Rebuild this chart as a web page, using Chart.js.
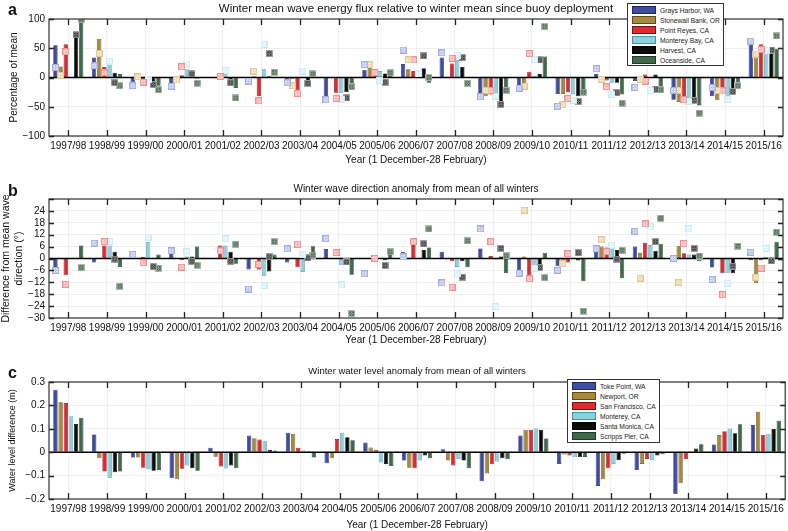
<!DOCTYPE html>
<html><head><meta charset="utf-8">
<script src="https://cdn.jsdelivr.net/npm/chart.js@4.4.0/dist/chart.umd.min.js"></script>
<style>
html,body{margin:0;padding:0;background:#fff}
body{width:788px;height:531px;overflow:hidden;position:relative;font-family:"Liberation Sans",Arial,sans-serif}
.pn{position:absolute;left:0}
.lab{position:absolute;left:8px;font-weight:bold;font-size:16px;line-height:16px;color:#111}
.leg{position:absolute;border:1px solid #333;background:#fff;box-sizing:border-box;padding:1px 0 0 4px;font-size:6.7px;color:#222}
.row{display:flex;align-items:center;height:10px;white-space:nowrap}
.sw{display:inline-block;width:22px;height:6px;border:1px solid #333;margin-right:4px;box-sizing:content-box}
</style>
</head><body>
<canvas id="ca" class="pn" width="788" height="170" style="top:0"></canvas>
<canvas id="cb" class="pn" width="788" height="180" style="top:170px"></canvas>
<canvas id="cc" class="pn" width="788" height="181" style="top:350px"></canvas>
<div class="lab" style="top:2px">a</div>
<div class="lab" style="top:183px">b</div>
<div class="lab" style="top:365px">c</div>
<div id="lega" class="leg" style="left:627px;top:3px;width:97px;height:63px"></div>
<div id="legc" class="leg" style="left:567px;top:379px;width:93px;height:64px"></div>
<script>
const CATS = ['1997/98','1998/99','1999/00','2000/01','2001/02','2002/03','2003/04','2004/05','2005/06','2006/07','2007/08','2008/09','2009/10','2010/11','2011/12','2012/13','2013/14','2014/15','2015/16'];
const BUOYS = ['Grays Harbor, WA','Stonewall Bank, OR','Point Reyes, CA','Monterey Bay, CA','Harvest, CA','Oceanside, CA'];
const GAUGES = ['Toke Point, WA','Newport, OR','San Francisco, CA','Monterey, CA','Santa Monica, CA','Scripps Pier, CA'];

// Panel a: winter mean wave energy flux (% of mean) - bars
const FLUX_GRAYS     = [55, 34, -8, -12, null, -3, -6, -37, 13, 23, 34, -33, -19, -28, 6, -6, -38, -32, 59];
const FLUX_STONEWALL = [19, 66, 0.5, -3, null, 2, -3, null, 18, 14, null, -32, -12, -28, -2, -2, -42, -39, 34];
const FLUX_PTREYES   = [57, 18, -6, 4, 3, -32, -22, -26, 9, 11, 24, -29, 10, -25, -5, 5, -42, -28, 57];
const FLUX_MONTEREY  = [null, 30, -3, 14, 8, 14, 0.5, -27, 11, 4, 30, -32, 3, -29, -9, 0.5, -43, -39, 49];
const FLUX_HARVEST   = [72, 8, -12, 7, -5, 2, -6, -25, 7, 16, 18, -47, 6, -32, -9, 5, -42, -30, 49];
const FLUX_OCEANSIDE = [97, 6, -14, -2, -18, 1, 1, -17, 6, -9, 0.5, -23, 36, -29, -29, -21, -48, -17, 49];
// Panel a: markers
const FLUXM_GRAYS     = [17, 20, -14, -15, null, -6, -9, -38, 22, 47, 42, -33, -18, -49, 15, -17, -22, -17, 62];
const FLUXM_STONEWALL = [4, 41, 1, -4, null, 11, -14, null, 22, 30, null, -22, -15, -47, -3, -3, -22, -22, 40];
const FLUXM_PTREYES   = [44, 8, -8, 18, 2, -40, -27, -36, 8, 30, 33, -22, 41, -36, -16, -6, -38, -23, 48];
const FLUXM_MONTEREY  = [null, 28, -4, 23, 12, 57, 11, -37, -5, 6, 38, -32, 31, -39, -29, -22, -41, -37, 47];
const FLUXM_HARVEST   = [73, -9, -12, 6, -9, 41, -10, -35, -8, 37, 34, -46, 30, -41, -26, -20, -39, -24, 47];
const FLUXM_OCEANSIDE = [99, -14, -21, -10, -35, 9, 6, -16, 8, 0, -10, -22, 87, -25, -44, -21, -61, -14, 71];

// Panel b: wave direction anomaly (deg) - bars
const DIR_GRAYS     = [-6, -2, null, 3, null, -5.5, -2, 4.8, null, 3.4, 3.4, 5.1, -6, -3.9, 3.4, 6, null, -4.6, -0.9];
const DIR_STONEWALL = [null, null, null, null, null, null, null, null, null, null, null, null, 1, -3.8, 6, 2.9, 6.2, null, -12.5];
const DIR_PTREYES   = [-8.5, 6.5, 0.7, -0.9, 6.5, -5.5, -4.4, null, null, 8.9, -1.4, 1.2, -8.5, -2, 5.5, 8, 2.7, -7.4, -0.9];
const DIR_MONTEREY  = [null, 6.5, 8.2, 1, 6.5, -8.9, -6.8, -3.4, null, null, -4.3, -0.5, -6.8, null, 6, 6.8, 2, -7.4, 0.9];
const DIR_HARVEST   = [null, 3.4, 0.3, 1, 3.4, -6.5, 0.5, -1.4, -0.9, 4.3, -1.4, 1, -5.1, -1, 4.3, 3.9, 2, -7.4, 0.5];
const DIR_OCEANSIDE = [6.5, -4.3, 2, 6, -2.6, 2, 6.2, -8.2, 2.5, 5.6, -4.4, -7.4, 2.9, -11.5, -9.9, 7.4, -1.4, 0.3, 8.5];
// Panel b: markers
const DIRM_GRAYS     = [-6, 7.7, 2, 3.8, null, -15.4, 4.8, 10, -7.7, 0.8, -12.3, 14.9, -7.4, -6, 4.8, 13.7, 0, -10.6, 3.1];
const DIRM_STONEWALL = [null, null, null, null, null, null, null, null, null, null, null, null, 24.3, -2.6, 9.4, -9.9, -12, null, -9.4];
const DIRM_PTREYES   = [-13, 8.5, -2.2, -4.4, 3.8, -3, 7.2, 2.9, 0, 8.4, -14.5, 8.5, -10.3, 2.4, 3.4, 17.4, 7.5, -18.3, -4.8];
const DIRM_MONTEREY  = [null, 8.5, 10.8, 3.4, 10, -13.7, 2, -13.3, null, null, -7.7, -24.4, -4.8, null, 6.8, 15.9, 14.9, -12.5, 5.1];
const DIRM_HARVEST   = [null, -0.3, -4.1, -1.4, -1.4, 0.9, 0.3, -1.7, -3.5, 7.4, -9.4, 5.1, -4.6, 2.9, -0.3, 8.5, 5.1, -3.9, -1.2];
const DIRM_OCEANSIDE = [-4.6, -14, -4.9, -3.4, 7.2, 8.5, 1.7, -27.7, 3.4, 14.9, 8.9, 1.4, -9.7, -26.5, 4.1, 20.3, 1.2, 6.3, 13.3];

// Panel c: water level anomaly (m)
const WL_TOKE     = [0.267, 0.076, -0.023, -0.111, 0.019, 0.071, 0.083, -0.047, 0.041, -0.036, 0.013, -0.124, 0.071, -0.050, -0.144, -0.076, -0.179, 0.033, 0.116];
const WL_NEWPORT  = [0.213, -0.026, -0.023, -0.116, -0.019, 0.060, 0.079, -0.026, 0.020, -0.066, -0.036, -0.091, 0.096, -0.010, -0.116, -0.050, -0.133, 0.073, 0.173];
const WL_SANFRAN  = [0.210, -0.083, -0.066, -0.071, -0.061, 0.054, 0.019, 0.056, 0.010, -0.069, -0.057, -0.051, 0.096, -0.014, -0.069, -0.029, -0.030, 0.090, 0.074];
const WL_MONTEREY = [0.154, -0.109, -0.073, -0.057, -0.070, 0.047, 0.007, 0.083, -0.044, -0.036, -0.030, -0.040, 0.101, -0.021, -0.050, -0.034, -0.004, 0.101, 0.079];
const WL_SANTAMON = [0.120, -0.086, -0.079, -0.069, -0.057, 0.011, 0.004, 0.064, -0.050, -0.014, -0.036, -0.026, 0.096, -0.021, -0.034, -0.014, 0.016, 0.081, 0.099];
const WL_SCRIPPS  = [0.147, -0.083, -0.076, -0.079, -0.069, 0.007, -0.023, 0.051, -0.059, -0.026, -0.069, -0.030, 0.059, -0.020, -0.007, -0.009, 0.034, 0.119, 0.134];

const COLORS  = ['#3d4ca2','#a8883d','#dc2a30','#8fd0e0','#0b0b0b','#3e6a4a'];
const BORDERS = ['#1e2866','#5e4a1c','#7a1216','#4b8fa3','#000000','#1f3a26'];
const MFILL   = ['#a2acdf','#ddc68f','#f28d8d','#c8ecf5','#a0a0a0','#aabbac'];
const MLINE   = ['#f2f4ff','#fffaf0','#fff3f3','#ffffff','#2a2a2a','#3d5744'];
const CAT_PCT = 0.8, BAR_PCT = 0.84;

Chart.defaults.font.family = '"Liberation Sans", Arial, sans-serif';
Chart.defaults.color = '#111';

function markerImg(k){
  const c = document.createElement('canvas'); c.width = 7; c.height = 7;
  const g = c.getContext('2d');
  g.fillStyle = MFILL[k]; g.fillRect(0,0,7,7);
  g.strokeStyle = MLINE[k]; g.lineWidth = 1;
  g.beginPath(); g.moveTo(1.5,1.5); g.lineTo(5.5,5.5); g.moveTo(5.5,1.5); g.lineTo(1.5,5.5); g.stroke();
  g.globalAlpha = 0.7; g.beginPath(); g.arc(3.5,3.5,2.2,0,Math.PI*2); g.stroke();
  return c;
}
const MARKS = [0,1,2,3,4,5].map(markerImg);

const framePlugin = {
  id: 'frame',
  afterDatasetDraw(chart, args){
    if (args.index !== 0) return;
    const {ctx, chartArea:a, scales} = chart;
    const y0 = scales.y.getPixelForValue(0);
    ctx.save(); ctx.strokeStyle = '#000'; ctx.lineWidth = 1.6;
    ctx.beginPath(); ctx.moveTo(a.left, y0); ctx.lineTo(a.right, y0); ctx.stroke(); ctx.restore();
  },
  afterDraw(chart){
    const {ctx, chartArea:a, scales} = chart;
    ctx.save(); ctx.strokeStyle = '#333'; ctx.lineWidth = 1.2;
    ctx.strokeRect(a.left, a.top, a.right - a.left, a.bottom - a.top);
    ctx.strokeStyle = '#222'; ctx.lineWidth = 1.3;
    ctx.beginPath();
    scales.x.ticks.forEach((t)=>{
      const px = Math.round(scales.x.getPixelForValue(t.value)) + 0.5;
      ctx.moveTo(px, a.top); ctx.lineTo(px, a.top + 6);
      ctx.moveTo(px, a.bottom); ctx.lineTo(px, a.bottom - 6);
    });
    scales.y.ticks.forEach((t)=>{
      const py = Math.round(scales.y.getPixelForValue(t.value)) + 0.5;
      ctx.moveTo(a.left, py); ctx.lineTo(a.left + 5, py);
      ctx.moveTo(a.right, py); ctx.lineTo(a.right - 5, py);
    });
    ctx.stroke(); ctx.restore();
  }
};

function minusFmt(v){
  const r = Math.round(v*1000)/1000;
  if (r === 0) return '0';
  return (r < 0 ? '\u2212' : '') + String(Math.abs(r));
}

function makeChart(id, cfg){
  const ds = cfg.bars.map((arr,k)=>({
    type:'bar', label: cfg.names[k],
    data: arr.map((v,i)=>({x: i, y: v})),
    backgroundColor: COLORS[k], borderColor: BORDERS[k], borderWidth: 0.7,
    categoryPercentage: CAT_PCT, barPercentage: BAR_PCT, order: 1,
    xAxisID:'x', yAxisID:'y'
  }));
  if (cfg.marks) cfg.marks.forEach((arr,k)=>{
    ds.push({
      type:'line', showLine:false, label: cfg.names[k] + ' (marker)',
      data: arr.map((v,i)=> v == null ? null : {x: i + (k - 2.5) * CAT_PCT / 6, y: v}).filter(Boolean),
      pointStyle: MARKS[k], order: 0, xAxisID:'x', yAxisID:'y'
    });
  });
  return new Chart(document.getElementById(id), {
    type:'bar',
    data:{ datasets: ds },
    options:{
      responsive:false, animation:false, events:[],
      layout:{ padding:{ left:0, right:2, top:0, bottom:0 } },
      plugins:{
        legend:{ display:false }, tooltip:{ enabled:false },
        title:{ display:true, text: cfg.title, fullSize:false, color:'#111',
          font:{ size: cfg.titleSize, weight:'normal' }, padding: cfg.titlePad }
      },
      scales:{
        x:{ type:'linear', offset:false, position:'bottom', min:-0.5, max:CATS.length - 0.5,
          afterBuildTicks: s => { s.ticks = CATS.map((c,i)=>({ value: i })); },
          grid:{ offset:false, drawTicks:false, color:'#e9e9e9', lineWidth:0.7 },
          border:{ display:false },
          ticks:{ padding:4, autoSkip:false, maxRotation:0, font:{ size:10 }, color:'#111',
            callback: v => CATS[Math.round(v)] ?? '' },
          title:{ display:true, text:'Year (1 December-28 February)', font:{ size:10 }, color:'#111', padding:{ top:0, bottom: cfg.xTitleBottom } },
          afterFit: s => { s.height = cfg.xHeight; }
        },
        y:{ type:'linear', min: cfg.min, max: cfg.max, beginAtZero:false,
          grid:{ drawTicks:false, color:'#e9e9e9', lineWidth:0.7 },
          border:{ display:false },
          ticks:{ stepSize: cfg.step, autoSkip:false, padding:4, font:{ size:10 }, color:'#111',
            callback: v => (cfg.hide && cfg.hide.includes(Math.round(v*1000)/1000)) ? '' : minusFmt(v) },
          title:{ display:true, text: cfg.yTitle, font:{ size: cfg.yTitleSize }, color:'#111', padding:{ top: cfg.yTitleTop, bottom:0 } },
          afterFit: s => { s.width = 49; }
        }
      }
    },
    plugins:[framePlugin]
  });
}

makeChart('ca', {
  names: BUOYS,
  bars: [FLUX_GRAYS, FLUX_STONEWALL, FLUX_PTREYES, FLUX_MONTEREY, FLUX_HARVEST, FLUX_OCEANSIDE],
  marks: [FLUXM_GRAYS, FLUXM_STONEWALL, FLUXM_PTREYES, FLUXM_MONTEREY, FLUXM_HARVEST, FLUXM_OCEANSIDE],
  title: 'Winter mean wave energy flux relative to winter mean since buoy deployment',
  titleSize: 11.5, titlePad: { top: 2, bottom: 3.2 },
  min: -100, max: 100, step: 50,
  yTitle: 'Percentage of mean', yTitleSize: 10, yTitleTop: 8,
  xHeight: 34, xTitleBottom: 4
});
makeChart('cb', {
  names: BUOYS,
  bars: [DIR_GRAYS, DIR_STONEWALL, DIR_PTREYES, DIR_MONTEREY, DIR_HARVEST, DIR_OCEANSIDE],
  marks: [DIRM_GRAYS, DIRM_STONEWALL, DIRM_PTREYES, DIRM_MONTEREY, DIRM_HARVEST, DIRM_OCEANSIDE],
  title: 'Winter wave direction anomaly from mean of all winters',
  titleSize: 10, titlePad: { top: 13, bottom: 4 },
  min: -30, max: 30, step: 6, hide: [30],
  yTitle: ['Difference from mean wave', 'direction (\u00b0)'], yTitleSize: 10.5, yTitleTop: 0,
  xHeight: 32, xTitleBottom: 4
});
makeChart('cc', {
  names: GAUGES,
  bars: [WL_TOKE, WL_NEWPORT, WL_SANFRAN, WL_MONTEREY, WL_SANTAMON, WL_SCRIPPS],
  marks: null,
  title: 'Winter water level anomaly from mean of all winters',
  titleSize: 9.5, titlePad: { top: 15.3, bottom: 5.3 },
  min: -0.2, max: 0.3, step: 0.1,
  yTitle: 'Water level difference (m)', yTitleSize: 9, yTitleTop: 7.6,
  xHeight: 32, xTitleBottom: 0
});

function buildLegend(id, names){
  const el = document.getElementById(id);
  names.forEach((n,k)=>{
    const row = document.createElement('div'); row.className = 'row';
    const sw = document.createElement('span'); sw.className = 'sw';
    sw.style.background = COLORS[k]; sw.style.borderColor = BORDERS[k];
    const tx = document.createElement('span'); tx.textContent = n;
    row.appendChild(sw); row.appendChild(tx); el.appendChild(row);
  });
}
buildLegend('lega', BUOYS);
buildLegend('legc', GAUGES);
</script>
</body></html>
